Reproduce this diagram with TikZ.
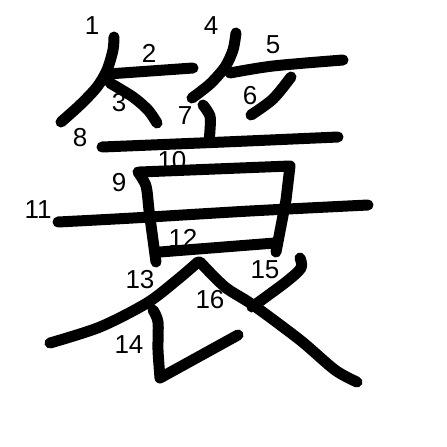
\documentclass[tikz,border=0pt]{standalone}
\usepackage{fontspec}
\setmainfont{Liberation Sans}
\usetikzlibrary{positioning}

\begin{document}
\begin{tikzpicture}[
  x=1pt, y=-1pt,
  brush/.style={
    draw, line width=11pt, line cap=round, line join=round
  },
  strokenum/.style={
    font=\fontsize{26}{26}\selectfont, inner sep=0pt
  }
]

\useasboundingbox (0,0) rectangle (447,447);

% --- Strokes ---
\draw[brush] plot[smooth] coordinates {(114,37) (113,50) (107,70) (97,87) (80,105) (61,122)};
\draw[brush] (108,74) -- (193,68);
\draw[brush] plot[smooth] coordinates {(110,83) (133,97) (148,110) (157,123)};
\draw[brush] plot[smooth] coordinates {(236,33) (233,50) (225,67) (210,84) (192,98)};
\draw[brush] plot[smooth] coordinates {(230,73) (273,66) (343,60)};
\draw[brush] plot[smooth] coordinates {(291,77) (273,99) (251,115)};
\draw[brush] plot[smooth] coordinates {(203,105) (210,116) (210,130) (209,141)};
\draw[brush] plot[smooth] coordinates {(102,147) (224,142) (338,137)};
\draw[brush] plot[smooth] coordinates {(138,172) (146,186) (149,210) (153,240) (156,262)};
\draw[brush] (140,172) -- (290,166) -- (286,200) -- (276,252);
\draw[brush] plot[smooth] coordinates {(58,222) (133,218) (250,211) (368,205)};
\draw[brush] (160,252) -- (275,243);
\draw[brush] plot[smooth] coordinates {(198,262) (177,280) (147,303) (100,327) (50,343)};
\draw[brush] plot[smooth] coordinates {(153,310) (158,322) (158,350) (160,378)} -- (238,335);
\draw[brush] plot[smooth] coordinates {(300,258) (301,268) (286,282) (252,307)};
\draw[brush] plot[smooth] coordinates {(200,262) (225,287) (253,305) (300,340) (335,370) (357,382)};

% --- Stroke numbers ---
\node[strokenum] (n1) at (92,26) {1};
\node[strokenum] (n2) at (149,53) {2};
\node[strokenum] (n3) at (119,103) {3};
\node[strokenum] (n4) at (211,26) {4};
\node[strokenum] (n5) at (273,45) {5};
\node[strokenum] (n6) at (250,96) {6};
\node[strokenum] (n7) at (185,116) {7};
\node[strokenum] (n8) at (80,138) {8};
\node[strokenum] (n9) at (119,183) {9};
\node[strokenum] (n10) at (172,161) {10};
\node[strokenum] (n11) at (38,210) {11};
\node[strokenum] (n12) at (183,238) {12};
\node[strokenum] (n13) at (140,280) {13};
\node[strokenum] (n14) at (129,345) {14};
\node[strokenum] (n15) at (265,270) {15};
\node[strokenum] (n16) at (210,300) {16};

\end{tikzpicture}
\end{document}
